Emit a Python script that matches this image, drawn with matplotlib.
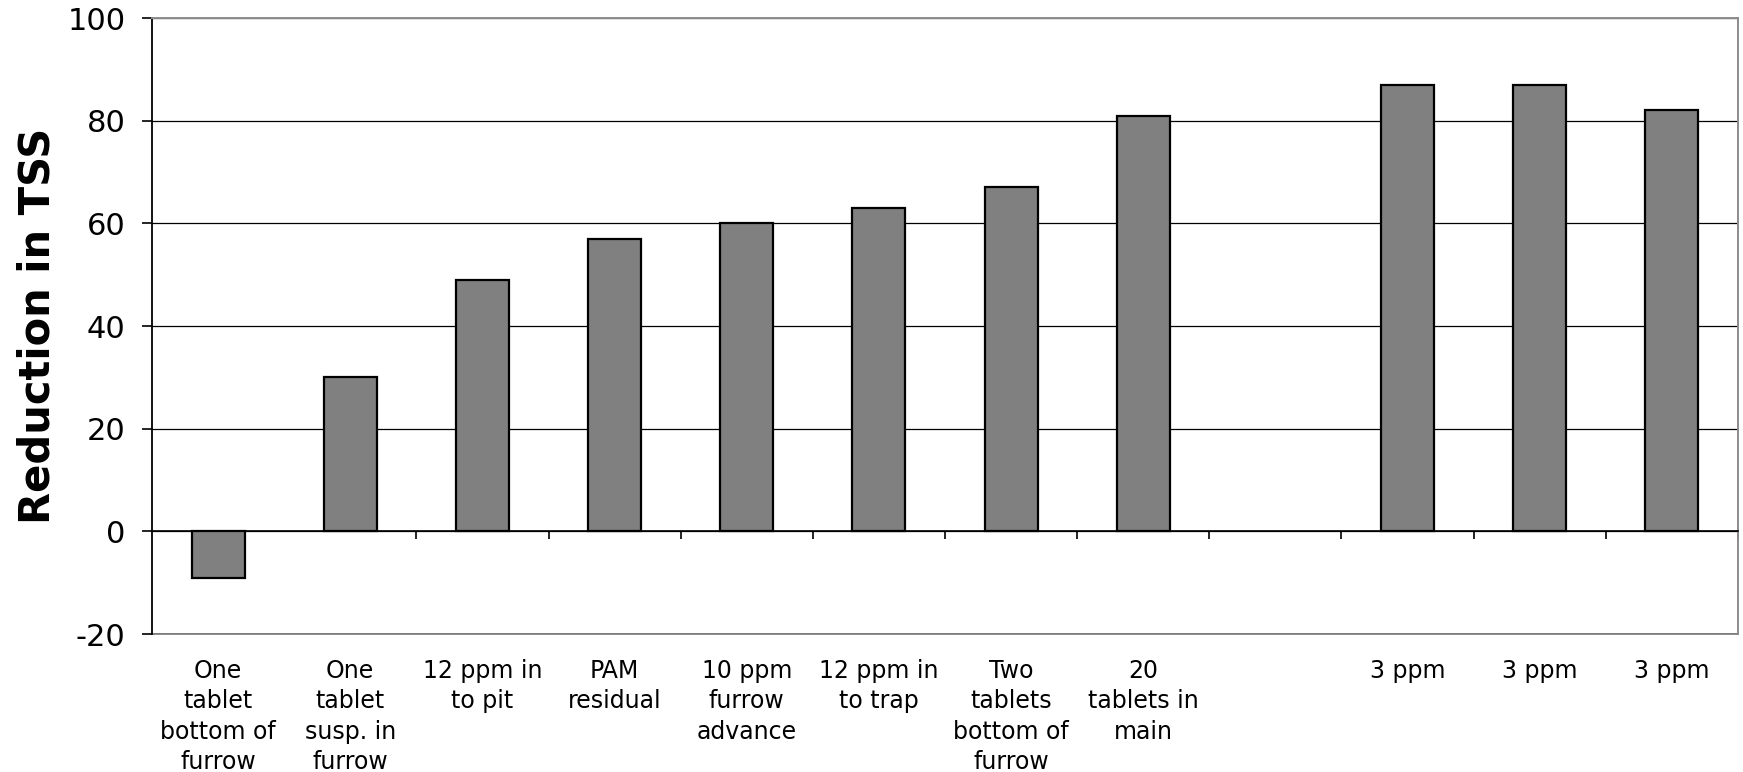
import numpy as np
import matplotlib
matplotlib.use("Agg")
import matplotlib.pyplot as plt
from matplotlib.ticker import FixedLocator, NullFormatter

# Data (the 9th slot is an empty category)
labels = ["One\ntablet\nbottom of\nfurrow", "One\ntablet\nsusp. in\nfurrow",
          "12 ppm in\nto pit", "PAM\nresidual", "10 ppm\nfurrow\nadvance",
          "12 ppm in\nto trap", "Two\ntablets\nbottom of\nfurrow",
          "20\ntablets in\nmain", "", "3 ppm", "3 ppm", "3 ppm"]
reduction = [-9, 30, 49, 57, 60, 63, 67, 81, np.nan, 87, 87, 82]
yticks = [-20, 0, 20, 40, 60, 80, 100]

plt.rcParams['font.family'] = ['DejaVu Sans']
plt.rcParams['axes.unicode_minus'] = False

W, H = 1743, 772
fig = plt.figure(figsize=(W / 100, H / 100), dpi=100)
ax = fig.add_axes([152 / W, 1 - 634 / H, (1738 - 152) / W, (634 - 18) / H])

x = np.arange(len(labels))
ax.bar(x, reduction, width=0.4, color='#808080', edgecolor='black',
       linewidth=1.6, zorder=3)

ax.set_xlim(-0.5, len(labels) - 0.5)
ax.set_ylim(-20, 100)
ax.set_yticks(yticks)
ax.yaxis.grid(True, color='black', linewidth=0.9, zorder=0)
ax.tick_params(axis='y', direction='out', length=7, width=1.2, pad=12,
               labelsize=22, colors='black')

# zero line with category separator ticks
ax.spines['bottom'].set_position(('data', 0))
ax.spines['bottom'].set_linewidth(1.2)
ax.spines['left'].set_linewidth(1.3)
for side in ['top', 'right']:
    ax.spines[side].set_color('#8c8c8c')
    ax.spines[side].set_linewidth(1.4)
ax.xaxis.set_major_locator(FixedLocator(x))
ax.xaxis.set_major_formatter(NullFormatter())
ax.xaxis.set_minor_locator(FixedLocator(x[1:] + 0.5))
ax.tick_params(axis='x', which='major', length=0)
ax.tick_params(axis='x', which='minor', direction='out', length=6, width=1.2)

# category labels on the outer frame
sec = ax.secondary_xaxis('bottom')
sec.spines['bottom'].set_color('#8c8c8c')
sec.spines['bottom'].set_linewidth(1.4)
sec.set_xticks(x)
sec.set_xticklabels(labels, fontsize=17, linespacing=1.34, va='top')
sec.tick_params(axis='x', length=0, pad=18)

ax.set_ylabel("Reduction in TSS", fontsize=30, fontweight='bold')
ax.yaxis.set_label_coords(-0.059, 0.5)

fig.savefig("out.png", dpi=100)
